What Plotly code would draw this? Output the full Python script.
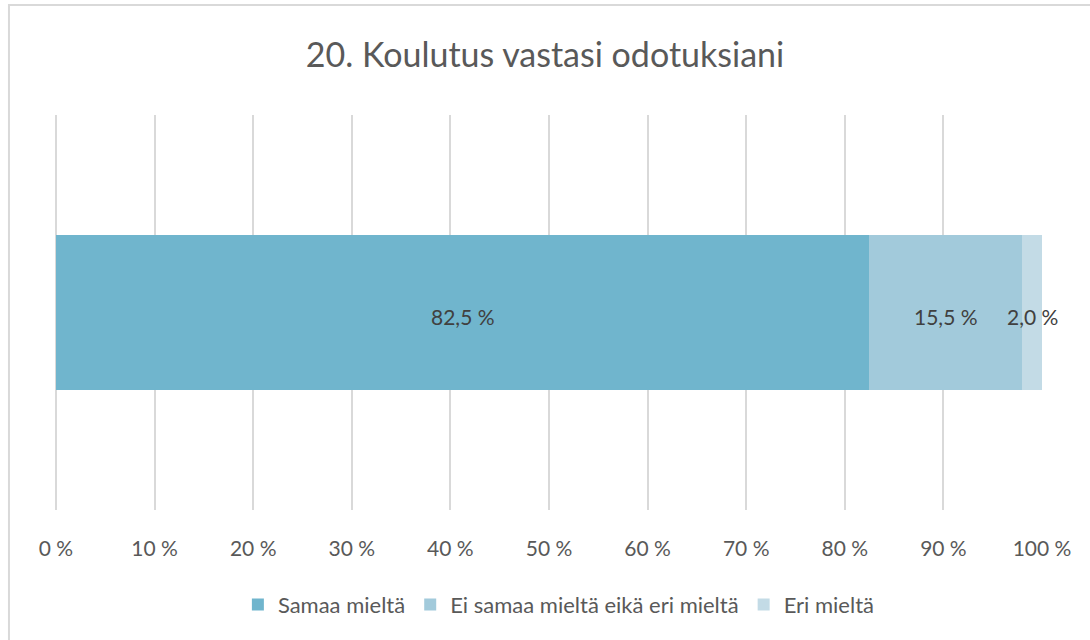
import plotly.graph_objects as go

title = "20. Koulutus vastasi odotuksiani"
category = [""]
series_names = ["Samaa mieltä", "Ei samaa mieltä eikä eri mieltä", "Eri mieltä"]
series_values = [82.5, 15.5, 2.0]
series_colors = ["#70B5CD", "#A2CADB", "#C3DBE6"]
tick_vals = [0, 10, 20, 30, 40, 50, 60, 70, 80, 90, 100]
tick_text = ["0 %", "10 %", "20 %", "30 %", "40 %", "50 %", "60 %", "70 %", "80 %", "90 %", "100 %"]

FONT = "Lato"
fig = go.Figure()
for name, val, col in zip(series_names, series_values, series_colors):
    fig.add_trace(go.Bar(
        y=category, x=[val], name=name, orientation="h",
        marker=dict(color=col, line=dict(width=0)), width=0.39,
        hoverinfo="skip",
    ))

cum = 0
for val in series_values:
    fig.add_annotation(
        x=cum + val / 2, y=0, xref="x", yref="y", yshift=-4,
        text=f"{val:.1f}".replace(".", ",") + " %",
        showarrow=False, font=dict(family=FONT, size=21, color="#404040"),
    )
    cum += val

fig.add_shape(type="rect", xref="paper", yref="paper",
              x0=-0.0466, x1=1.2, y0=-0.6, y1=1.2785,
              line=dict(color="#D9D9D9", width=2), fillcolor="rgba(0,0,0,0)", layer="below")

fig.update_layout(
    barmode="stack",
    width=1090, height=640,
    margin=dict(l=55, r=47, t=115, b=130),
    paper_bgcolor="white", plot_bgcolor="white",
    title=dict(text=title, x=0.5, xanchor="center", y=0.914, yanchor="middle",
               font=dict(family=FONT, size=34, color="#595959")),
    xaxis=dict(range=[-0.1, 100.1], tickvals=tick_vals, ticktext=tick_text,
               showgrid=True, gridcolor="#D9D9D9", gridwidth=1.5,
               zeroline=True, zerolinecolor="#D9D9D9", zerolinewidth=1.5,
               showline=False, ticks="",
               tickfont=dict(family=FONT, size=21, color="#595959"),
               ticklabelstandoff=24),
    yaxis=dict(range=[-0.5, 0.5], showticklabels=False, showgrid=False,
               zeroline=False, showline=False, fixedrange=True),
    legend=dict(orientation="h", x=0.51, xanchor="center", y=-0.24, yanchor="middle",
                font=dict(family=FONT, size=22, color="#595959"),
                itemwidth=30, traceorder="normal", tracegroupgap=0),
    showlegend=True,
)

fig.write_html("out.html", config={"displayModeBar": False},
               post_script="document.body.style.margin='0';")
